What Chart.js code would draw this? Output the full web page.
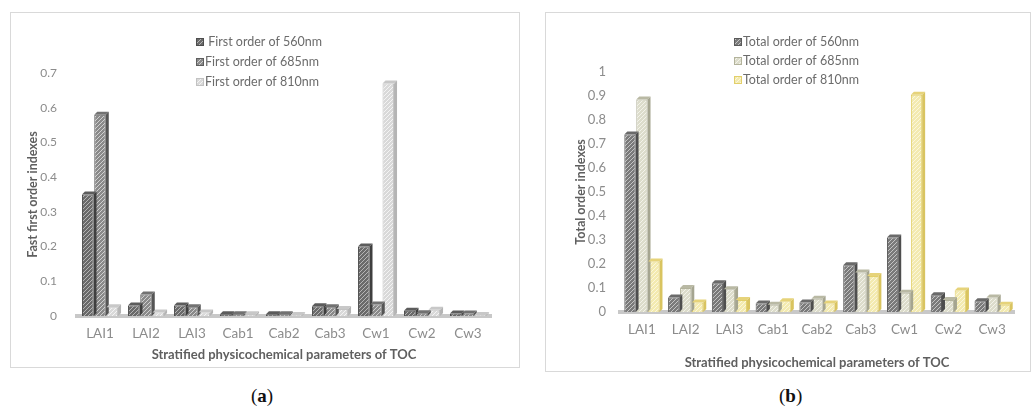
<!DOCTYPE html>
<html lang="en">
<head>
<meta charset="UTF-8">
<title>Sensitivity indexes of TOC parameters</title>
<script src="https://cdn.jsdelivr.net/npm/chart.js@4.4.0/dist/chart.umd.min.js"></script>
<style>
  body { margin: 0; background: #fff; width: 1033px; height: 410px; position: relative; overflow: hidden; }
  .panel { position: absolute; box-sizing: border-box; border: 1px solid #d9d9d9; }
  .panel canvas { position: absolute; left: 0; top: 0; }
  .tag { position: absolute; top: 385px; font-family: "Liberation Serif", "DejaVu Serif", serif; font-size: 19px; color: #111; }
  .tag b { font-weight: bold; }
</style>
</head>
<body>
<div class="panel" id="pa" style="left:10px; top:12px; width:510px; height:356px;"><canvas id="chartA"></canvas></div>
<div class="panel" id="pb" style="left:545px; top:12px; width:486px; height:360px;"><canvas id="chartB"></canvas></div>
<div class="tag" style="left:251px;">(<b>a</b>)</div>
<div class="tag" style="left:779px;">(<b>b</b>)</div>

<script>
// categories shared by both panels
const params = ['LAI1', 'LAI2', 'LAI3', 'Cab1', 'Cab2', 'Cab3', 'Cw1', 'Cw2', 'Cw3'];

// (a) first order indexes
const firstLabels = [' First order of 560nm', 'First order of 685nm', 'First order of 810nm'];
const first560 = [0.35, 0.03, 0.03, 0.005, 0.005, 0.028, 0.20, 0.015, 0.007];
const first685 = [0.58, 0.062, 0.025, 0.005, 0.005, 0.025, 0.033, 0.008, 0.007];
const first810 = [0.025, 0.01, 0.01, 0.005, 0.003, 0.02, 0.67, 0.018, 0.003];
const firstTicks = [0, 0.1, 0.2, 0.3, 0.4, 0.5, 0.6, 0.7];

// (b) total order indexes
const totalLabels = ['Total order of 560nm', 'Total order of 685nm', 'Total order of 810nm'];
const total560 = [0.74, 0.06, 0.12, 0.035, 0.04, 0.195, 0.31, 0.07, 0.045];
const total685 = [0.885, 0.10, 0.095, 0.03, 0.055, 0.165, 0.08, 0.05, 0.06];
const total810 = [0.21, 0.04, 0.05, 0.045, 0.035, 0.15, 0.905, 0.09, 0.03];
const totalTicks = [0, 0.1, 0.2, 0.3, 0.4, 0.5, 0.6, 0.7, 0.8, 0.9, 1];

const fam = 'Lato, "Open Sans", sans-serif';
const tickFont = { family: fam, size: 13.5 };
const titleFont = { family: fam, size: 13, weight: 'bold' };

// diagonal hatch fill like the Excel pattern
function hatch(bg, line) {
    const c = document.createElement('canvas');
    c.width = c.height = 4;
    const g = c.getContext('2d');
    g.fillStyle = bg;
    g.fillRect(0, 0, 4, 4);
    g.strokeStyle = line;
    g.lineWidth = 1;
    g.beginPath();
    g.moveTo(0, 4); g.lineTo(4, 0);
    g.moveTo(-1, 1); g.lineTo(1, -1);
    g.moveTo(3, 5); g.lineTo(5, 3);
    g.stroke();
    return g.createPattern(c, 'repeat');
}

// fake 3D column: top cap and right side face for each bar
const bar3d = {
    id: 'bar3d',
    afterDatasetsDraw(chart, args, opts) {
        const ctx = chart.ctx;
        const d = opts.depth || 3;
        chart.data.datasets.forEach((ds, i) => {
            const meta = chart.getDatasetMeta(i);
            meta.data.forEach(bar => {
                const l = bar.x - bar.width / 2, r = bar.x + bar.width / 2;
                const t = bar.y, b = bar.base;
                ctx.save();
                ctx.fillStyle = ds.capColor;
                ctx.beginPath();
                ctx.moveTo(l, t); ctx.lineTo(l + d, t - d); ctx.lineTo(r + d, t - d); ctx.lineTo(r, t);
                ctx.closePath(); ctx.fill();
                ctx.fillStyle = ds.sideColor;
                ctx.beginPath();
                ctx.moveTo(r, t); ctx.lineTo(r + d, t - d); ctx.lineTo(r + d, b - d); ctx.lineTo(r, b);
                ctx.closePath(); ctx.fill();
                ctx.restore();
            });
        });
    }
};

// vertical legend drawn near the top centre
const stackLegend = {
    id: 'stackLegend',
    afterDraw(chart, args, opts) {
        const ctx = chart.ctx;
        ctx.save();
        ctx.font = '12.5px ' + fam;
        ctx.textBaseline = 'middle';
        chart.data.datasets.forEach((ds, i) => {
            const y = opts.y + i * opts.gap;
            ctx.fillStyle = ds.backgroundColor;
            ctx.fillRect(opts.x, y - 4, 8, 8);
            ctx.strokeStyle = ds.borderColor;
            ctx.lineWidth = 1;
            ctx.strokeRect(opts.x + 0.5, y - 3.5, 7, 7);
            ctx.fillStyle = '#6b6b6b';
            ctx.fillText(ds.label, opts.x + 9, y);
        });
        ctx.restore();
    }
};

function makeChart(id, w, h, labels, series, styles, ticks, max, yTitle, lay) {
    const cv = document.getElementById(id);
    cv.width = w; cv.height = h;
    cv.style.width = w + 'px'; cv.style.height = h + 'px';
    return new Chart(cv, {
        type: 'bar',
        data: {
            labels: params,
            datasets: series.map((vals, i) => ({
                label: labels[i],
                data: vals,
                backgroundColor: hatch(styles[i].bg, styles[i].line),
                borderColor: styles[i].border,
                borderWidth: 1,
                capColor: styles[i].cap,
                sideColor: styles[i].side,
                categoryPercentage: lay.cat,
                barPercentage: 0.94
            }))
        },
        options: {
            responsive: false,
            animation: false,
            layout: { padding: { top: lay.top, right: lay.right, left: 0, bottom: 0 } },
            plugins: {
                legend: { display: false },
                tooltip: { enabled: false },
                bar3d: { depth: 3 },
                stackLegend: lay.legend
            },
            scales: {
                x: {
                    grid: { display: false, drawTicks: false },
                    border: { display: true, color: '#c8c8c8', width: 4 },
                    ticks: { color: '#8c8c8c', font: tickFont, padding: lay.xPad },
                    title: { display: true, text: 'Stratified physicochemical parameters of TOC', color: '#5f5f5f', font: titleFont, padding: { top: lay.xTitlePad, bottom: lay.xTitleBottom } },
                    afterFit: s => { s.height = lay.xHeight; }
                },
                y: {
                    min: 0,
                    max: max,
                    grid: { display: false, drawTicks: false },
                    border: { display: false },
                    afterBuildTicks: s => { s.ticks = ticks.map(v => ({ value: v })); },
                    ticks: { color: '#8c8c8c', font: { family: fam, size: lay.yFont }, padding: lay.yPad, callback: v => String(+v.toFixed(2)) },
                    title: { display: true, text: yTitle, color: '#5f5f5f', font: { family: fam, size: lay.yTitleFont, weight: 'bold' }, padding: { top: lay.yTitlePad, bottom: 0 } },
                    afterFit: s => { s.width = lay.yWidth; }
                }
            }
        },
        plugins: [bar3d, stackLegend]
    });
}

makeChart('chartA', 508, 354, firstLabels, [first560, first685, first810], [
    { bg: '#6a6a6a', line: '#b5b5b5', border: '#4d4d4d', cap: '#5c5c5c', side: '#3f3f3f' },
    { bg: '#8a8a8a', line: '#d0d0d0', border: '#5e5e5e', cap: '#727272', side: '#555555' },
    { bg: '#d9d9d9', line: '#f4f4f4', border: '#c2c2c2', cap: '#c8c8c8', side: '#b4b4b4' }
], firstTicks, 0.7, 'Fast first order indexes', {
    top: 60, right: 28, xHeight: 51, yWidth: 66, xPad: 10, xTitlePad: 0, xTitleBottom: 4, cat: 0.8,
    yPad: 20, yTitlePad: 14, yFont: 12, yTitleFont: 12.5,
    legend: { x: 185, y: 29, gap: 20 }
});

makeChart('chartB', 484, 358, totalLabels, [total560, total685, total810], [
    { bg: '#7a7a7a', line: '#c4c4c4', border: '#5a5a5a', cap: '#6a6a6a', side: '#4e4e4e' },
    { bg: '#dcdccb', line: '#f3f3ea', border: '#b3b39c', cap: '#b9b9a4', side: '#a5a590' },
    { bg: '#f3eab0', line: '#fbf7dc', border: '#e2cf6a', cap: '#e6d37a', side: '#d9c460' }
], totalTicks, 1, 'Total order indexes', {
    top: 59, right: 16, xHeight: 59, yWidth: 74, xPad: 10, xTitlePad: 10, xTitleBottom: 0, cat: 0.82,
    yPad: 14, yTitlePad: 27, yFont: 13, yTitleFont: 12.5,
    legend: { x: 188, y: 29, gap: 19 }
});
</script>
</body>
</html>
